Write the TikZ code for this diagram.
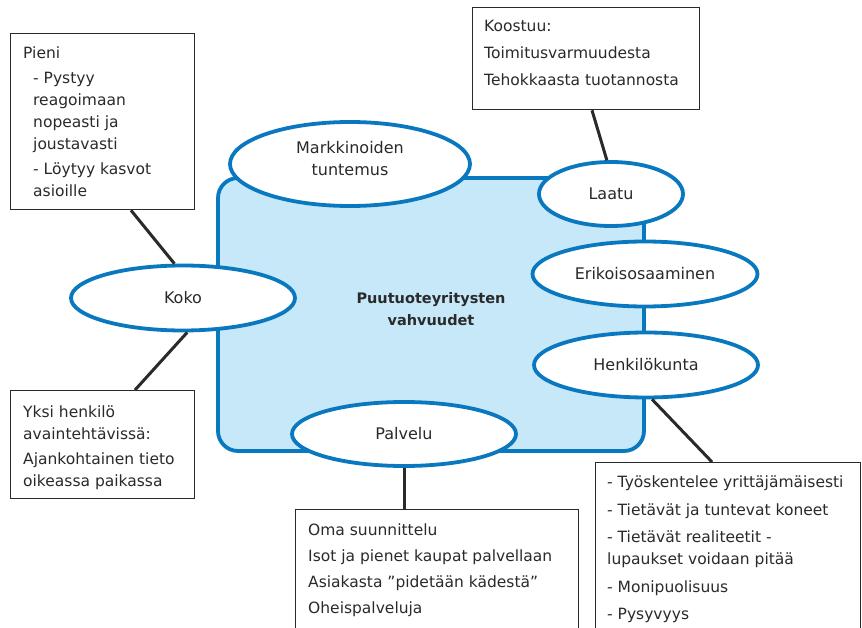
\documentclass[tikz,border=0pt]{standalone}
\usepackage{fontspec}
\setmainfont{DejaVu Sans}
\usetikzlibrary{shapes.geometric,calc}
\definecolor{bblue}{HTML}{0A78BE}
\definecolor{lblue}{HTML}{C6E8F8}
\definecolor{ink}{HTML}{2A2A2A}
\begin{document}
\begin{tikzpicture}[x=1pt,y=-1pt,
  oval/.style={ellipse, draw=bblue, line width=3.8pt, fill=white, inner sep=0pt, text=ink, font=\fontsize{16}{22}\selectfont, align=center},
  tbox/.style={rectangle, draw=ink, line width=1.3pt, fill=white, inner sep=0pt, anchor=north west},
  txt/.style={anchor=north west, inner sep=0pt, align=left, text=ink, font=\fontsize{15.5}{22}\selectfont},
  link/.style={draw=ink, line width=3pt}]
\useasboundingbox (0,0) rectangle (862,628);
\clip (0,0) rectangle (862,628);
\fill[white] (0,0) rectangle (862,628);

% core
\node[rectangle, rounded corners=20pt, draw=bblue, fill=lblue, line width=3.8pt,
      minimum width=426pt, minimum height=273pt, inner sep=0pt] (core) at (431,314.5) {};
\node[font=\bfseries\fontsize{14.5}{22}\selectfont, align=center, text=ink, inner sep=0pt] (title) at (431,309) {Puutuoteyritysten\\vahvuudet};

% ovals
\node[oval, minimum width=240pt, minimum height=84pt] (mark) at (350,164) {};
\node[text=ink, font=\fontsize{16}{22}\selectfont, align=center, inner sep=0pt] (markt) at (350,159) {Markkinoiden\\tuntemus};
\node[oval, minimum width=144pt, minimum height=64pt] (laatu) at (611,194) {Laatu};
\node[oval, minimum width=225pt, minimum height=65pt] (erik) at (645,274) {Erikoisosaaminen};
\node[oval, minimum width=224pt, minimum height=65pt] (henk) at (646,365) {Henkilökunta};
\node[oval, minimum width=224pt, minimum height=65pt] (koko) at (183,298) {Koko};
\node[oval, minimum width=224pt, minimum height=64pt] (palv) at (404,434) {Palvelu};

% boxes
\node[tbox, minimum width=184pt, minimum height=176pt] (pieni) at (10,33) {};
\node[tbox, minimum width=227pt, minimum height=102pt] (koost) at (472,7) {};
\node[tbox, minimum width=184pt, minimum height=108pt] (yksi) at (10,390) {};
\node[tbox, minimum width=283pt, minimum height=140pt] (oma) at (295,509) {};
\node[tbox, minimum width=265pt, minimum height=180pt] (hbox) at (595,462) {};

% box texts
\node[txt] (pienit) at (23,43) {\strut Pieni\\[3pt]
  \hspace*{10pt}- Pystyy\\
  \hspace*{10pt}reagoimaan\\
  \hspace*{10pt}nopeasti ja\\
  \hspace*{10pt}joustavasti\\[3pt]
  \hspace*{10pt}- Löytyy kasvot\\
  \hspace*{10pt}asioille};
\node[txt] (koostt) at (484,16) {\strut Koostuu:\\[5pt]Toimitusvarmuudesta\\[5pt]Tehokkaasta tuotannosta};
\node[txt] (yksit) at (23,402) {\strut Yksi henkilö\\avaintehtävissä:\\[3pt]Ajankohtainen tieto\\oikeassa paikassa};
\node[txt] (omat) at (308,520) {\strut Oma suunnittelu\\[4pt]Isot ja pienet kaupat palvellaan\\[4pt]Asiakasta ”pidetään kädestä”\\[4pt]Oheispalveluja};
\node[txt] (hboxt) at (607,472) {\strut - Työskentelee yrittäjämäisesti\\[6pt]- Tietävät ja tuntevat koneet\\[5pt]- Tietävät realiteetit -\\lupaukset voidaan pitää\\[6pt]- Monipuolisuus\\[5pt]- Pysyvyys};

% links
\draw[link] ($(pieni.south west)+(121,0)$) -- (koko.104);
\draw[link] (koko.277) -- ($(yksi.north west)+(125,0)$);
\draw[link] ($(koost.south west)+(120,0)$) -- (laatu.97);
\draw[link] (henk.280) -- ($(hbox.north west)+(117,0)$);
\draw[link] (palv.south) -- (palv.south |- oma.north);
\end{tikzpicture}
\end{document}
